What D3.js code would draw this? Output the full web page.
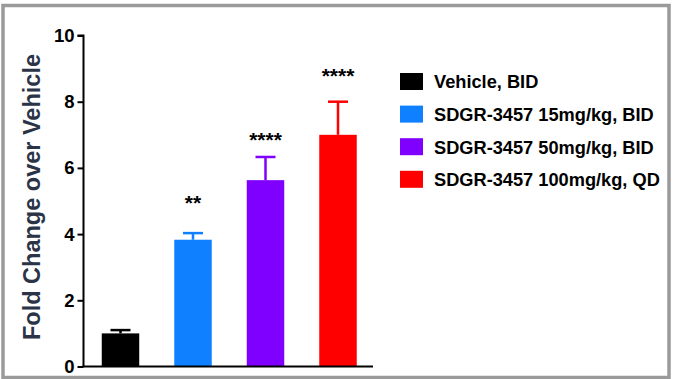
<!DOCTYPE html>
<html>
<head>
<meta charset="utf-8">
<script src="https://cdn.jsdelivr.net/npm/d3@7"></script>
<style>
  html, body { margin: 0; padding: 0; background: #fff; }
  svg { display: block; font-family: "Liberation Sans", Arial, sans-serif; }
</style>
</head>
<body>
<svg id="chart" width="673" height="379"></svg>
<script>
// Treatment groups, mean fold change and upper SEM
const groups = ["Vehicle, BID", "SDGR-3457 15mg/kg, BID", "SDGR-3457 50mg/kg, BID", "SDGR-3457 100mg/kg, QD"];
const means = [1.0, 3.83, 5.63, 7.0];
const errors = [0.1, 0.2, 0.7, 1.0];
const significance = ["", "**", "****", "****"];
const colors = ["#000000", "#0f80ff", "#8000ff", "#ff0000"];
const yTicks = [0, 2, 4, 6, 8, 10];
const yLabel = "Fold Change over Vehicle";

const svg = d3.select("#chart");

// outer frame
svg.append("rect")
  .attr("x", 3).attr("y", 5.5)
  .attr("width", 666).attr("height", 372)
  .attr("fill", "none").attr("stroke", "#9a9a9a").attr("stroke-width", 3.5);

const plotLeft = 83.5, plotRight = 373, plotTop = 35.5, plotBottom = 366.5;

const x = d3.scaleBand()
  .domain(groups)
  .range([plotLeft + 1, plotRight + 1])
  .paddingInner(0.483)
  .paddingOuter(0.238);

const y = d3.scaleLinear().domain([0, 10]).range([plotBottom, plotTop]);

// bars
svg.append("g").selectAll("rect")
  .data(groups)
  .join("rect")
  .attr("x", d => x(d))
  .attr("y", (d, i) => y(means[i]))
  .attr("width", x.bandwidth())
  .attr("height", (d, i) => y(0) - y(means[i]))
  .attr("fill", (d, i) => colors[i]);

// upper error bars
const eb = svg.append("g").selectAll("g")
  .data(groups)
  .join("g")
  .attr("stroke", (d, i) => colors[i])
  .attr("stroke-width", 2.5);
eb.append("line")
  .attr("x1", d => x(d) + x.bandwidth() / 2)
  .attr("x2", d => x(d) + x.bandwidth() / 2)
  .attr("y1", (d, i) => y(means[i]))
  .attr("y2", (d, i) => y(means[i] + errors[i]));
eb.append("line")
  .attr("x1", d => x(d) + x.bandwidth() / 2 - 10)
  .attr("x2", d => x(d) + x.bandwidth() / 2 + 10)
  .attr("y1", (d, i) => y(means[i] + errors[i]))
  .attr("y2", (d, i) => y(means[i] + errors[i]));

// significance stars
const starOffset = [0, 32, 19, 28];
svg.append("g").selectAll("text")
  .data(groups)
  .join("text")
  .attr("x", d => x(d) + x.bandwidth() / 2)
  .attr("y", (d, i) => y(means[i] + errors[i]) - starOffset[i] + 9)
  .attr("text-anchor", "middle")
  .attr("font-size", 21)
  .attr("font-weight", "bold")
  .attr("fill", "#000")
  .text((d, i) => significance[i]);

// y axis
const yAxis = svg.append("g")
  .attr("transform", `translate(${plotLeft},0)`)
  .call(d3.axisLeft(y).tickValues(yTicks).tickSize(6).tickPadding(3).tickFormat(d3.format("d")));
yAxis.select(".domain").attr("stroke", "#000").attr("stroke-width", 2).attr("d", `M-6,${plotTop}H0V${plotBottom}`);
yAxis.selectAll(".tick line").attr("stroke", "#000").attr("stroke-width", 2);
yAxis.selectAll(".tick text")
  .attr("font-size", 18.5).attr("font-weight", "bold")
  .attr("font-family", "'Liberation Sans', Arial, sans-serif")
  .attr("fill", "#000");

// x baseline
svg.append("line")
  .attr("x1", plotLeft - 1).attr("x2", plotRight)
  .attr("y1", plotBottom).attr("y2", plotBottom)
  .attr("stroke", "#000").attr("stroke-width", 2);

// y axis title
svg.append("text")
  .attr("transform", `translate(40,197) rotate(-90)`)
  .attr("text-anchor", "middle")
  .attr("font-size", 23.5)
  .attr("font-weight", "bold")
  .attr("fill", "#2b3447")
  .text(yLabel);

// legend
const legend = svg.append("g").selectAll("g")
  .data(groups)
  .join("g")
  .attr("transform", (d, i) => `translate(400,${81.5 + i * 32.6})`);
legend.append("rect")
  .attr("x", 0).attr("y", -8.5)
  .attr("width", 23).attr("height", 17)
  .attr("fill", (d, i) => colors[i]);
const legendText = legend.append("text")
  .attr("x", 34).attr("y", 6.8)
  .attr("font-size", 18).attr("font-weight", "bold")
  .attr("fill", "#000")
  .text(d => d);
// size legend labels so the longest one fits the space left of the frame
const widest = d3.max(legendText.nodes(), n => n.getComputedTextLength());
legendText.attr("font-size", Math.min(19.5, 18 * 226 / widest));
</script>
</body>
</html>
